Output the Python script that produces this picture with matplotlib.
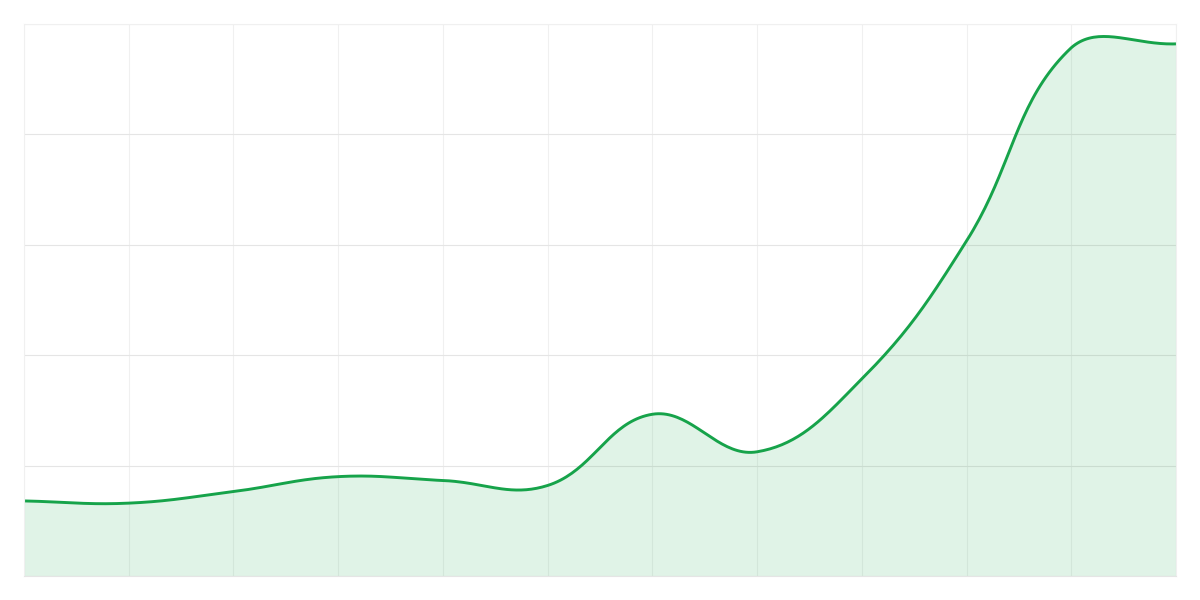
import numpy as np
import matplotlib
matplotlib.use('Agg')
import matplotlib.pyplot as plt

# values, one per vertical grid line (0..100 scale)
points = list(range(12))
values = [13.6, 13.2, 15.3, 18.0, 17.3, 16.4, 29.3, 22.5, 35.7, 60.7, 95.7, 96.4]

line_color = '#16a34a'
tension = 0.4

# pixels per data unit, used so the curve bends like a canvas line chart
px_x = 1152 / 11
px_y = 552 / 100


def spline(xs, ys, steps=40):
    xs = np.asarray(xs, float)
    ys = np.asarray(ys, float)
    n = len(xs)
    cps = []
    for i in range(n):
        pi = max(i - 1, 0)
        ni = min(i + 1, n - 1)
        d01 = np.hypot((xs[i] - xs[pi]) * px_x, (ys[i] - ys[pi]) * px_y)
        d12 = np.hypot((xs[ni] - xs[i]) * px_x, (ys[ni] - ys[i]) * px_y)
        tot = d01 + d12
        s01 = d01 / tot if tot else 0
        s12 = d12 / tot if tot else 0
        fa = tension * s01
        fb = tension * s12
        dx = xs[ni] - xs[pi]
        dy = ys[ni] - ys[pi]
        prev_cp = (xs[i] - fa * dx, np.clip(ys[i] - fa * dy, 0, 100))
        next_cp = (xs[i] + fb * dx, np.clip(ys[i] + fb * dy, 0, 100))
        cps.append((prev_cp, next_cp))
    out_x, out_y = [], []
    for i in range(n - 1):
        t = np.linspace(0, 1, steps, endpoint=(i == n - 2))
        p0 = (xs[i], ys[i])
        p1 = cps[i][1]
        p2 = cps[i + 1][0]
        p3 = (xs[i + 1], ys[i + 1])
        b0 = (1 - t)**3
        b1 = 3 * (1 - t)**2 * t
        b2 = 3 * (1 - t) * t**2
        b3 = t**3
        out_x.append(b0 * p0[0] + b1 * p1[0] + b2 * p2[0] + b3 * p3[0])
        out_y.append(b0 * p0[1] + b1 * p1[1] + b2 * p2[1] + b3 * p3[1])
    return np.concatenate(out_x), np.concatenate(out_y)


sx, sy = spline(points, values)

fig = plt.figure(figsize=(12, 6), dpi=100)
ax = fig.add_axes([24 / 1200, 24 / 600, 1152 / 1200, 552 / 600])

ax.fill_between(sx, sy, 0, color=line_color, alpha=0.13, linewidth=0)
ax.plot(sx, sy, color=line_color, linewidth=2.1, solid_capstyle='round')

ax.set_xlim(0, 11)
ax.set_ylim(0, 100)
ax.set_xticks(points)
ax.set_yticks(range(0, 101, 20))
ax.tick_params(length=0, labelbottom=False, labelleft=False)
ax.grid(axis='x', color='#f0f0f0', linewidth=0.8)
ax.grid(axis='y', color='#e5e5e5', linewidth=0.8)
ax.set_axisbelow(True)
for side in ['top', 'left', 'right']:
    ax.spines[side].set_color('#f0f0f0')
    ax.spines[side].set_linewidth(0.8)
ax.spines['bottom'].set_color('#e5e5e5')
ax.spines['bottom'].set_linewidth(0.8)

fig.savefig('out.png', dpi=100)
